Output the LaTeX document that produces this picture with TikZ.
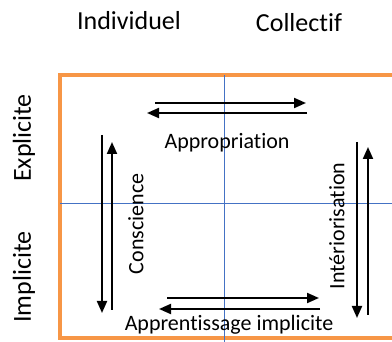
\documentclass[tikz,border=0pt]{standalone}
\usepackage{fontspec}
\setmainfont[Ligatures={NoCommon,NoContextual}]{Carlito}
\usetikzlibrary{arrows.meta}
\definecolor{frameorange}{RGB}{247,150,70}
\definecolor{axisblue}{RGB}{68,114,196}
\tikzset{
  hdr/.style={font=\fontsize{26}{30}\selectfont, inner sep=0pt},
  lbl/.style={font=\fontsize{22}{26}\selectfont, inner sep=0pt},
  flow/.style={line width=2pt, -{Triangle[length=12pt,width=10pt]}},
  axis/.style={draw=axisblue, line width=1pt},
}
\begin{document}
\begin{tikzpicture}[x=1pt,y=-1pt]
\useasboundingbox (0,0) rectangle (392,342);
% frame
\draw[frameorange, line width=4pt] (420,75) -- (60,75) -- (60,338) -- (420,338);
% axes
\draw[axis] (224,75) -- (224,342);
\draw[axis] (60,204) -- (392,204);
% headers
\node[hdr] (ind) at (129,21) {Individuel};
\node[hdr] (col) at (299,23) {Collectif};
\node[hdr, rotate=90] (exp) at (24,138) {Explicite};
\node[hdr, rotate=90] (imp) at (24,277) {Implicite};
% labels
\node[lbl] (app) at (227,143) {Appropriation};
\node[lbl, rotate=90] (con) at (136,224) {Conscience};
\node[lbl, rotate=90] (int) at (337,226) {Intériorisation};
\node[lbl] (ai) at (229,325) {Apprentissage implicite};
% arrow endpoints
\coordinate (a1s) at (155,103); \coordinate (a1e) at (306,103);
\coordinate (a2s) at (307,113); \coordinate (a2e) at (147,113);
\coordinate (c1s) at (102,135); \coordinate (c1e) at (102,313);
\coordinate (c2s) at (112,310); \coordinate (c2e) at (112,142);
\coordinate (i1s) at (357,142); \coordinate (i1e) at (357,318);
\coordinate (i2s) at (368,315); \coordinate (i2e) at (368,147);
\coordinate (p1s) at (167,298); \coordinate (p1e) at (319,298);
\coordinate (p2s) at (320,309); \coordinate (p2e) at (159,309);
% arrows
\draw[flow] (a1s) -- (a1e);
\draw[flow] (a2s) -- (a2e);
\draw[flow] (c1s) -- (c1e);
\draw[flow] (c2s) -- (c2e);
\draw[flow] (i1s) -- (i1e);
\draw[flow] (i2s) -- (i2e);
\draw[flow] (p1s) -- (p1e);
\draw[flow] (p2s) -- (p2e);
\end{tikzpicture}
\end{document}
